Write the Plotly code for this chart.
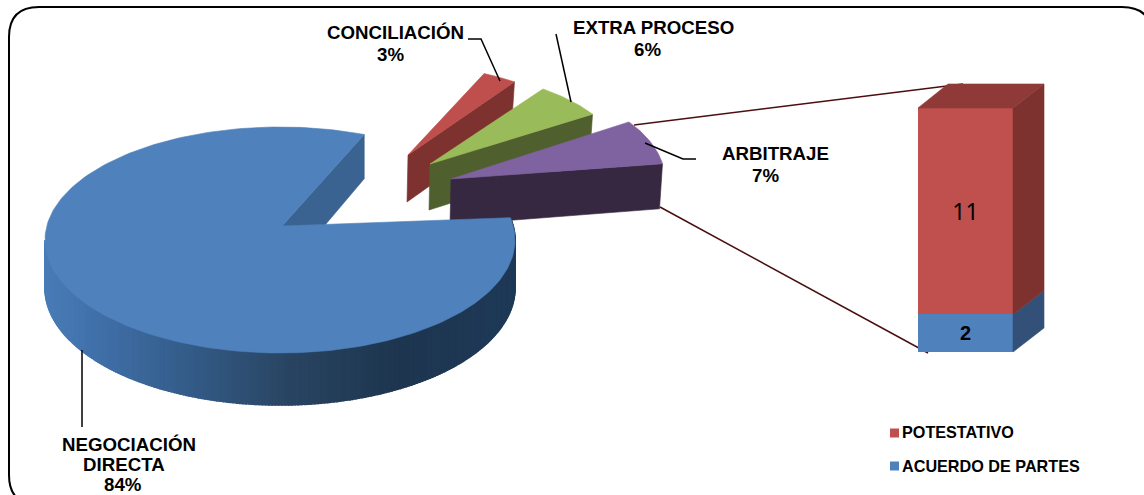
import numpy as np
import plotly.graph_objects as go

# ---- data ----
pie_labels = ["NEGOCIACIÓN<br>DIRECTA<br>84%", "ARBITRAJE<br>7%", "EXTRA PROCESO<br>6%", "CONCILIACIÓN<br>3%"]
pie_values = [84, 7, 6, 3]
bar_names = ["ACUERDO DE PARTES", "POTESTATIVO"]
bar_values = [2, 11]

# ---- styles / layout ----
W, H = 1144, 495
TOP = {"neg": "#4f81bd", "arb": "#7f62a0", "ext": "#9abb59", "con": "#be4f4c"}
SIDE = {"arb": "#352840", "ext": "#4f5f2e", "con": "#7d3230"}
FONT = "Liberation Sans, Arial, sans-serif"
RX, RY = 235.0, 113.0
START_DEG = 69.0
# apex (px), radius scale, angle tweak, depth for each exploded wedge
WEDGES = {
    "arb": dict(apex=(451, 179), s=0.91, rot=-2.9, d=46),
    "ext": dict(apex=(430, 164), s=0.82, rot=-4.1, d=46),
    "con": dict(apex=(408, 155), s=0.79, rot=-3.2, d=47),
}
BAR_UNIT = 18.77   # px per bar unit
BAR_BASE = 352.0   # px of value 0
BAR_X0, BAR_X1 = 918.0, 1013.0
DEP_X, DEP_Y = 31.0, 24.0

fig = go.Figure()


def poly(xs, ys, color, yaxis="y", lw=0.6):
    fig.add_trace(go.Scatter(x=list(xs), y=list(ys), mode="lines", fill="toself",
                             fillcolor=color, line=dict(color=color, width=lw),
                             hoverinfo="skip", showlegend=False, yaxis=yaxis))


def seg(xs, ys, color="#000000", width=1.5):
    fig.add_trace(go.Scatter(x=xs, y=ys, mode="lines", line=dict(color=color, width=width),
                             hoverinfo="skip", showlegend=False))


# angles from values (counter-clockwise from START_DEG)
spans = [v / sum(pie_values) * 360.0 for v in pie_values]
a0 = START_DEG
edges = []
for sp in spans:
    edges.append((a0, a0 + sp))
    a0 += sp

# exploded wedges, farthest first
keys = ["neg", "arb", "ext", "con"]
for k in ["con", "ext", "arb"]:
    i = keys.index(k)
    w = WEDGES[k]
    a, b = edges[i]
    a, b = a % 360 + w["rot"], (b % 360 if b % 360 > 0 else 360) + w["rot"]
    if b < a:
        b += 360
    th = np.radians(np.linspace(a, b, 24))
    ax, ay = w["apex"]
    px = ax + w["s"] * RX * np.cos(th)
    py = ay - w["s"] * RY * np.sin(th)
    # side wall along the lower-angle edge
    poly([ax, px[0], px[0] - 3, ax - 1, ax], [ay, py[0], py[0] + w["d"] - 1, ay + w["d"], ay], SIDE[k])
    poly(np.r_[ax, px, ax], np.r_[ay, py, ay], TOP[k])

# main slice
CX, CY = 280.0, 240.0
APX, APY = 282.0, 226.0
a, b = edges[0]


def depth(t):
    return 48.0 - 4.0 * np.sin(t)


# inner wall of the gap
t0 = np.radians(a)
sx, sy = CX + RX * np.cos(t0), CY - RY * np.sin(t0)
poly([APX, sx, sx, APX, APX], [APY, sy, sy + depth(t0), APY + 50, APY], "#3b6391")

# outer rim with a fine stepped gradient
grad_x = [44, 110, 200, 290, 400, 515]
grad_r = [0x4a, 0x3f, 0x33, 0x2a, 0x1e, 0x1f]
grad_g = [0x7d, 0x6e, 0x5a, 0x45, 0x36, 0x3a]
grad_b = [0xb8, 0xa6, 0x85, 0x62, 0x50, 0x58]
rim = np.radians(np.linspace(180, b, 240))
for t1, t2 in zip(rim[:-1], rim[1:]):
    x1, x2 = CX + RX * np.cos(t1), CX + RX * np.cos(t2)
    y1, y2 = CY - RY * np.sin(t1), CY - RY * np.sin(t2)
    xm = (x1 + x2) / 2
    col = "rgb(%d,%d,%d)" % (np.interp(xm, grad_x, grad_r), np.interp(xm, grad_x, grad_g), np.interp(xm, grad_x, grad_b))
    poly([x1, x2, x2, x1, x1], [y1, y2, y2 + depth(t2), y1 + depth(t1), y1], col, lw=1.6)

th = np.radians(np.linspace(a, b, 240))
poly(np.r_[APX, CX + RX * np.cos(th), APX], np.r_[APY, CY - RY * np.sin(th), APY], TOP["neg"])

# stacked bar on its own value axis
bar_x = (BAR_X0 + BAR_X1) / 2
bar_w = BAR_X1 - BAR_X0
dv = DEP_Y / BAR_UNIT
bar_cols = ["#4f81bd", "#c0504d"]
side_cols = ["#325078", "#7d3230"]
fonts = [dict(family=FONT, size=20, color="#000000", weight="bold"),
         dict(family="Noto Sans, sans-serif", size=23, color="#000000")]
cum = 0.0
for name, val, col, sc, fnt in zip(bar_names, bar_values, bar_cols, side_cols, fonts):
    fig.add_trace(go.Bar(x=[bar_x], y=[val], width=[bar_w], name=name, yaxis="y2",
                         marker=dict(color=col, line=dict(width=0)), text=[str(val)],
                         textposition="inside", insidetextanchor="middle", textangle=0,
                         textfont=fnt, hoverinfo="skip", showlegend=False))
    poly([BAR_X1, BAR_X1 + DEP_X, BAR_X1 + DEP_X, BAR_X1, BAR_X1],
         [cum, cum + dv, cum + val + dv, cum + val, cum], sc, yaxis="y2")
    cum += val
poly([BAR_X0, BAR_X0 + 30, BAR_X1 + DEP_X, BAR_X1, BAR_X0],
     [cum, cum + dv, cum + dv, cum, cum], "#8f3a38", yaxis="y2")

# leader lines
seg([468, 481, 500], [39, 39, 81])
seg([556, 571], [34, 102])
seg([645, 683, 696], [143, 159, 159])
seg([82, 82], [350, 427])
# connectors to the bar
seg([634, 963], [125, 84], color="#4a0f10")
seg([660, 928], [207, 353], color="#4a0f10")

# legend drawn by hand so it sits tight to its swatches
leg_y = {"POTESTATIVO": 432, "ACUERDO DE PARTES": 466}
leg_c = {"POTESTATIVO": "#c0504d", "ACUERDO DE PARTES": "#4f81bd"}
for nm in ["POTESTATIVO", "ACUERDO DE PARTES"]:
    fig.add_trace(go.Scatter(x=[894.5], y=[leg_y[nm] + (1 if nm == "POTESTATIVO" else 0)], mode="markers",
                             marker=dict(symbol="square", size=9, color=leg_c[nm]),
                             hoverinfo="skip", showlegend=False))
    fig.add_annotation(x=900, y=leg_y[nm], text="<b>%s</b>" % nm, showarrow=False, xanchor="left",
                       yanchor="middle", font=dict(family=FONT, size=16.2, color="#000000"))

# pie labels, one annotation per line: (x, y) of every line
label_pos = [
    [(128.5, 444), (123.5, 464.5), (123, 484)],
    [(775.5, 153.5), (765, 175)],
    [(653, 27), (647.5, 49)],
    [(395, 32), (390, 54)],
]
for lab, places in zip(pie_labels, label_pos):
    for part, (x, y) in zip(lab.split("<br>"), places):
        fig.add_annotation(x=x, y=y, text="<b>%s</b>" % part, showarrow=False,
                           xanchor="center", yanchor="middle",
                           font=dict(family=FONT, size=18.7, color="#000000"))

# frame runs past the right and bottom of the picture
frame = ("M 9 37 Q 9 7 39 7 L 1122 7 Q 1152 7 1152 37 L 1152 475 Q 1152 505 1122 505 "
         "L 39 505 Q 9 505 9 475 Z")
fig.add_shape(type="path", path=frame, xref="x", yref="y", line=dict(color="#000000", width=2), layer="above")

fig.update_layout(
    width=W, height=H, margin=dict(l=0, r=0, t=0, b=0),
    paper_bgcolor="#ffffff", plot_bgcolor="#ffffff", barmode="stack", showlegend=False,
    xaxis=dict(range=[0, W], visible=False, fixedrange=True),
    yaxis=dict(range=[H, 0], visible=False, fixedrange=True),
    yaxis2=dict(range=[(BAR_BASE - H) / BAR_UNIT, BAR_BASE / BAR_UNIT], overlaying="y",
                visible=False, fixedrange=True),
)
fig.write_html("out.html", post_script="document.body.style.margin='0';",
               config={"displayModeBar": False})
